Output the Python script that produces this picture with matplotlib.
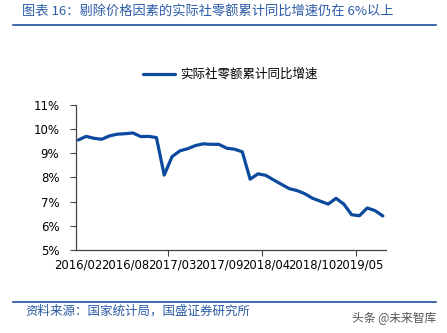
import matplotlib.pyplot as plt
import numpy as np

plt.rcParams['font.family'] = ['Noto Sans CJK SC', 'DejaVu Sans']

# monthly categories (January merged into Feb data)
months = ([f"2016/{m:02d}" for m in range(2, 13)] +
          [f"2017/{m:02d}" for m in range(2, 13)] +
          [f"2018/{m:02d}" for m in range(2, 13)] +
          [f"2019/{m:02d}" for m in range(2, 9)])
growth = [9.55, 9.70, 9.62, 9.58, 9.72, 9.79, 9.81, 9.84, 9.69, 9.70, 9.65,
          8.10, 8.86, 9.10, 9.19, 9.32, 9.39, 9.37, 9.37, 9.21, 9.17,
          9.06, 7.93, 8.15, 8.09, 7.90, 7.72, 7.54, 7.46, 7.33, 7.14,
          7.02, 6.90, 7.14, 6.90, 6.46, 6.42, 6.74, 6.63, 6.41]
series_name = "实际社零额累计同比增速"
title = "图表 16：剔除价格因素的实际社零额累计同比增速仍在 6%以上"
source = "资料来源：国家统计局，国盛证券研究所"

blue = '#0B4A9E'
text_blue = '#2B5BA6'

fig = plt.figure(figsize=(4.47, 3.33), dpi=100)
ax = fig.add_axes([0.170, 0.249, 0.6935, 0.436])

x = np.arange(len(months))
ax.plot(x, growth, color=blue, lw=2.3, solid_capstyle='round',
        solid_joinstyle='round', label=series_name)

ax.set_ylim(5, 11)
ax.set_yticks(np.arange(5, 12, 1))
ax.set_yticklabels([f"{v}%" for v in range(5, 12)], fontsize=8.5,
                   family='DejaVu Sans')
ax.set_xlim(-0.3, 39.4)
ax.set_xticks(x[::6])
ax.set_xticklabels(months[::6], fontsize=8.4, family='DejaVu Sans')
ax.set_xticks([11.5, 23.5, 35.5], minor=True)
ax.tick_params(axis='x', which='major', length=0, pad=6)
ax.tick_params(axis='x', which='minor', length=4, width=0.8, color='#444444')
ax.tick_params(axis='y', length=4, width=0.8, color='#444444', pad=8)

for s in ['top', 'right']:
    ax.spines[s].set_visible(False)
for s in ['left', 'bottom']:
    ax.spines[s].set_color('#444444')
    ax.spines[s].set_linewidth(0.9)

ax.legend(loc='lower left', bbox_to_anchor=(0.2, 1.13), frameon=False,
          fontsize=9, handlelength=2.6, handletextpad=0.4, borderaxespad=0)

fig.text(0.05, 0.963, title, fontsize=9.5, color=text_blue, va='center',
         ha='left', weight='medium')
fig.add_artist(plt.Line2D([0.03, 0.975], [0.925, 0.925], color='#1F4E9C',
                          lw=1.2))
fig.add_artist(plt.Line2D([0.03, 0.975], [0.093, 0.093], color='#1F4E9C',
                          lw=1.2))
fig.text(0.056, 0.066, source, fontsize=9, color=text_blue, va='center',
         ha='left')
fig.text(0.975, 0.042, "头条 @未来智库", fontsize=8.5, color='#555555',
         va='center', ha='right')

fig.savefig('out.png', dpi=100)
